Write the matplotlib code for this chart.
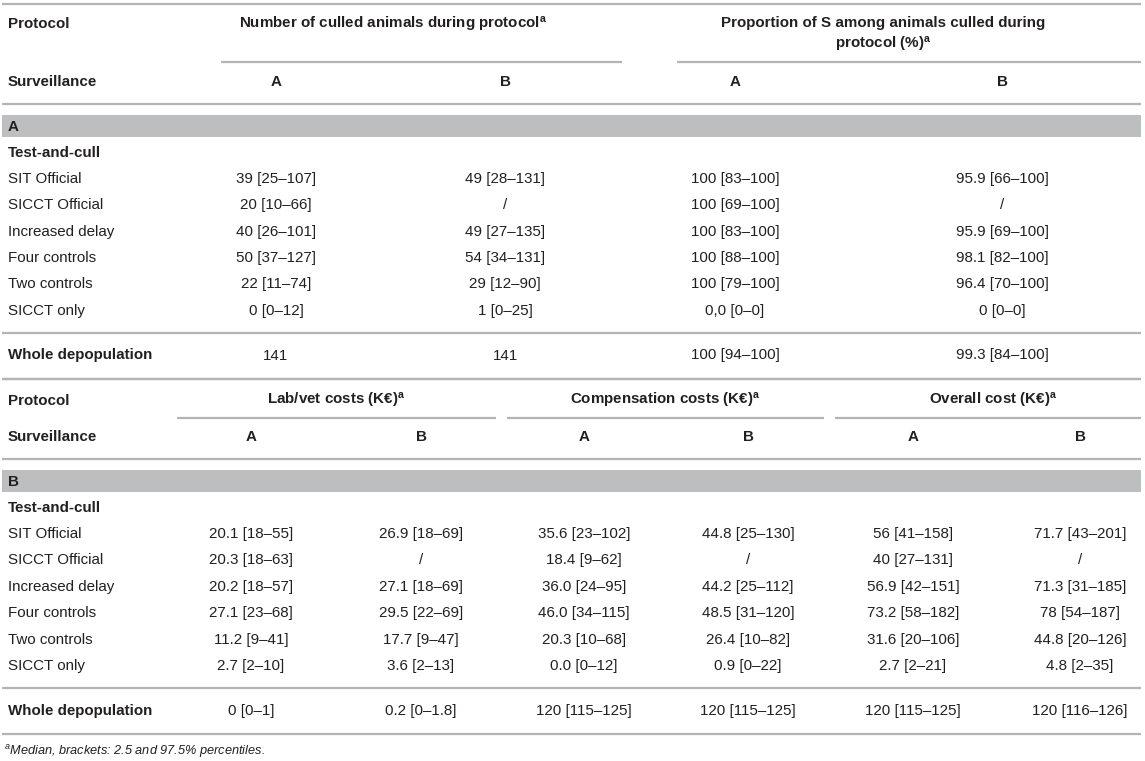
#!/usr/bin/env python3
"""
Redraw of a two-part results table (culled animals and costs per protocol)
as a matplotlib figure, saved to out.png.
"""

import matplotlib
matplotlib.use("Agg")
import matplotlib.pyplot as plt

# ---------------------------------------------------------------- data
protocols = ["SIT Official", "SICCT Official", "Increased delay",
             "Four controls", "Two controls", "SICCT only"]

culled_a = ["39 [25\u2013107]", "20 [10\u201366]", "40 [26\u2013101]",
            "50 [37\u2013127]", "22 [11\u201374]", "0 [0\u201312]"]
culled_b = ["49 [28\u2013131]", "/", "49 [27\u2013135]",
            "54 [34\u2013131]", "29 [12\u201390]", "1 [0\u201325]"]
prop_s_a = ["100 [83\u2013100]", "100 [69\u2013100]", "100 [83\u2013100]",
            "100 [88\u2013100]", "100 [79\u2013100]", "0,0 [0\u20130]"]
prop_s_b = ["95.9 [66\u2013100]", "/", "95.9 [69\u2013100]",
            "98.1 [82\u2013100]", "96.4 [70\u2013100]", "0 [0\u20130]"]
depop_a = ["141", "141", "100 [94\u2013100]", "99.3 [84\u2013100]"]

lab_a = ["20.1 [18\u201355]", "20.3 [18\u201363]", "20.2 [18\u201357]",
         "27.1 [23\u201368]", "11.2 [9\u201341]", "2.7 [2\u201310]"]
lab_b = ["26.9 [18\u201369]", "/", "27.1 [18\u201369]",
         "29.5 [22\u201369]", "17.7 [9\u201347]", "3.6 [2\u201313]"]
comp_a = ["35.6 [23\u2013102]", "18.4 [9\u201362]", "36.0 [24\u201395]",
          "46.0 [34\u2013115]", "20.3 [10\u201368]", "0.0 [0\u201312]"]
comp_b = ["44.8 [25\u2013130]", "/", "44.2 [25\u2013112]",
          "48.5 [31\u2013120]", "26.4 [10\u201382]", "0.9 [0\u201322]"]
overall_a = ["56 [41\u2013158]", "40 [27\u2013131]", "56.9 [42\u2013151]",
             "73.2 [58\u2013182]", "31.6 [20\u2013106]", "2.7 [2\u201321]"]
overall_b = ["71.7 [43\u2013201]", "/", "71.3 [31\u2013185]",
             "78 [54\u2013187]", "44.8 [20\u2013126]", "4.8 [2\u201335]"]
depop_b = ["0 [0\u20131]", "0.2 [0\u20131.8]", "120 [115\u2013125]",
           "120 [115\u2013125]", "120 [115\u2013125]", "120 [116\u2013126]"]

groups_a = ["Number of culled animals during protocol$^{\\mathbf{a}}$",
            "Proportion of S among animals culled during\nprotocol (%)$^{\\mathbf{a}}$"]
groups_b = ["Lab/vet costs (K\u20ac)$^{\\mathbf{a}}$",
            "Compensation costs (K\u20ac)$^{\\mathbf{a}}$",
            "Overall cost (K\u20ac)$^{\\mathbf{a}}$"]
surveillance = ["A", "B"]
footnote = "$^{\\mathit{a}}$Median, brackets: 2.5 and 97.5% percentiles."

# ---------------------------------------------------------------- style
plt.rcParams["font.family"] = ["Liberation Sans", "DejaVu Sans"]
plt.rcParams["mathtext.fontset"] = "custom"
plt.rcParams["mathtext.rm"] = "Liberation Sans"
plt.rcParams["mathtext.it"] = "Liberation Sans:italic"
plt.rcParams["mathtext.bf"] = "Liberation Sans:bold"
plt.rcParams["mathtext.default"] = "regular"

TXT = "#231f20"
RULE = "#b4b4b4"
BAND = "#bcbec0"
FS = 10.9
LEFT, RIGHT = 2, 1141

fig = plt.figure(figsize=(11.45, 7.61), dpi=100)
ax = fig.add_axes([0, 0, 1, 1])
ax.set_xlim(0, 1145)
ax.set_ylim(761, 0)
ax.axis("off")


def rule(y, x0=LEFT, x1=RIGHT):
    ax.plot([x0, x1], [y, y], color=RULE, lw=1.6, solid_capstyle="butt")


def band(y0, y1, label):
    ax.fill_between([LEFT, RIGHT], y0, y1, color=BAND, lw=0)
    ax.text(8, (y0 + y1) / 2 + 1, label, fontsize=FS, fontweight="bold",
            color=TXT, va="center", ha="left")


def cell(x, y, s, bold=False, ha="center"):
    ax.text(x, y, s, fontsize=FS, fontweight="bold" if bold else "normal",
            color=TXT, va="center", ha=ha)


def draw_table(top, groups, group_x, spans, col_x, columns, depop, tag,
               head_y, span_y, surv_y, row0, step):
    rule(top)
    cell(8, head_y, "Protocol", bold=True, ha="left")
    for g, gx in zip(groups, group_x):
        # two-line headers hang from the first row, single ones sit on it
        gy = head_y + 11 if "\n" in g else head_y
        ax.text(gx, gy, g, fontsize=FS, fontweight="bold", color=TXT,
                ha="center", va="center", multialignment="center",
                linespacing=1.4)
    for x0, x1 in spans:
        rule(span_y, x0, x1)
    cell(8, surv_y, "Surveillance", bold=True, ha="left")
    for i, cx in enumerate(col_x):
        cell(cx, surv_y, surveillance[i % 2], bold=True)
    rule(surv_y + 22)
    band(surv_y + 33, surv_y + 55, tag)
    cell(8, row0 - step, "Test-and-cull", bold=True, ha="left")
    for r, name in enumerate(protocols):
        y = row0 + r * step
        cell(8, y, name, ha="left")
        for cx, col in zip(col_x, columns):
            cell(cx, y, col[r])
    y_last = row0 + (len(protocols) - 1) * step
    rule(y_last + 22)
    cell(8, y_last + 45, "Whole depopulation", bold=True, ha="left")
    for cx, v in zip(col_x, depop):
        cell(cx, y_last + 45, v)
    rule(y_last + 68)


# table A
draw_table(top=4,
           groups=groups_a, group_x=[393, 883],
           spans=[(221, 622), (677, RIGHT)],
           col_x=[276, 505, 735, 1002],
           columns=[culled_a, culled_b, prop_s_a, prop_s_b],
           depop=depop_a, tag="A",
           head_y=24, span_y=62, surv_y=82, row0=179, step=26.3)

# table B
draw_table(top=379,
           groups=groups_b, group_x=[336, 665, 993],
           spans=[(177, 496), (507, 824), (835, RIGHT)],
           col_x=[251, 421, 584, 748, 913, 1080],
           columns=[lab_a, lab_b, comp_a, comp_b, overall_a, overall_b],
           depop=depop_b, tag="B",
           head_y=401, span_y=418, surv_y=437, row0=534, step=26.4)

ax.text(4, 752, footnote, fontsize=9.2, style="italic", color=TXT,
        ha="left", va="center")

fig.savefig("out.png", dpi=100)
plt.close(fig)
